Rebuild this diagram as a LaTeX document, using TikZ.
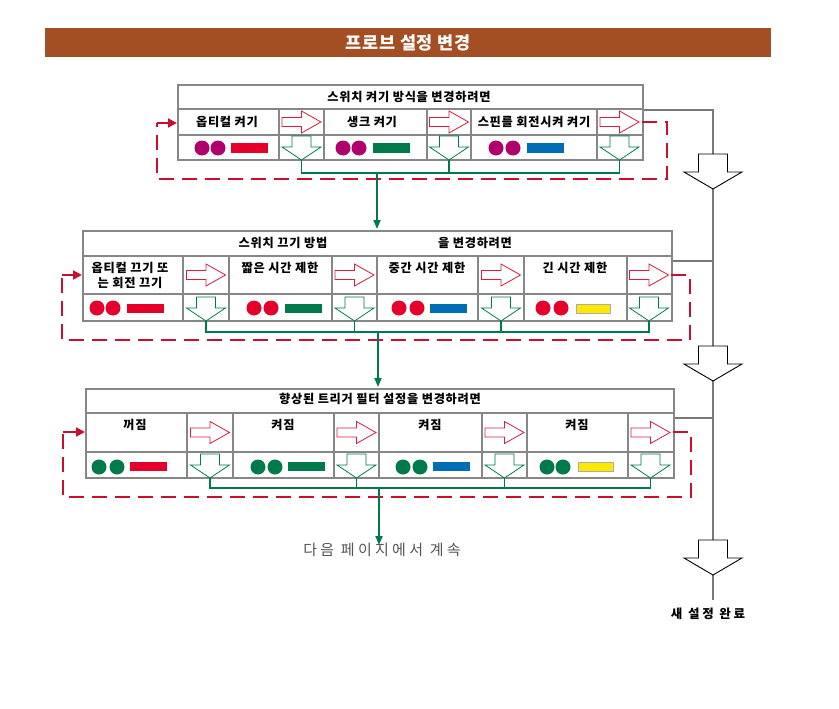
\documentclass[tikz,border=0pt]{standalone}
\usepackage{fontspec}
\setmainfont{Noto Sans CJK KR}
\usetikzlibrary{arrows.meta}
\definecolor{titlebg}{RGB}{163,78,35}
\definecolor{dotmag}{RGB}{176,0,110}
\definecolor{dotred}{RGB}{228,0,43}
\definecolor{dotgreen}{RGB}{0,122,74}
\definecolor{barblue}{RGB}{0,110,180}
\definecolor{baryellow}{RGB}{255,232,0}
\definecolor{loopred}{RGB}{200,16,46}
\definecolor{arrred}{RGB}{215,30,60}
\definecolor{boxgray}{RGB}{135,135,135}
\definecolor{trunkgray}{RGB}{120,120,120}
\definecolor{flowgreen}{RGB}{0,122,74}
\definecolor{nextgray}{RGB}{85,85,85}
\begin{document}
\begin{tikzpicture}[x=1pt,y=-1pt,
  panel/.style={draw=boxgray,line width=1.6pt,anchor=north west,inner sep=0pt},
  grid/.style={draw=boxgray,line width=1.2pt},
  hdr/.style={font=\bfseries\fontsize{12.2}{14}\selectfont\addfontfeatures{LetterSpace=6},inner sep=0pt},
  celltxt/.style={font=\bfseries\fontsize{12.2}{15}\selectfont\addfontfeatures{LetterSpace=6},align=center,inner sep=0pt},
  loop/.style={draw=loopred,line width=1.8pt,dash pattern=on 15pt off 8pt},
  loophead/.style={draw=loopred,line width=1.8pt,-{Triangle[length=9pt,width=9pt]}},
  flow/.style={draw=flowgreen,line width=1.8pt},
  flowarrow/.style={draw=flowgreen,line width=1.8pt,-{Triangle[length=9pt,width=7pt]}},
  trunk/.style={draw=trunkgray,line width=1.5pt},
  rarrow/.pic={\draw[draw=arrred,fill=white,line width=0.8pt]
     (-19.5,-4.5) -- (0,-4.5) -- (0,-11) -- (19.5,0) -- (0,11) -- (0,4.5) -- (-19.5,4.5) -- cycle;},
  garrow/.pic={\draw[draw=flowgreen,fill=white,line width=0.8pt]
     (-9.5,0) -- (9.5,0) -- (9.5,11) -- (19.5,11) -- (0,24) -- (-19.5,11) -- (-9.5,11) -- cycle;},
  bigarrow/.pic={\draw[draw=black,fill=white,line width=0.9pt]
     (-14.5,0) -- (14.5,0) -- (14.5,18) -- (29,18) -- (0,35) -- (-29,18) -- (-14.5,18) -- cycle;},
]
\useasboundingbox (0,0) rectangle (839,709);
\fill[white] (0,0) rectangle (839,709);

% title bar
\node[fill=titlebg,minimum width=726pt,minimum height=29pt,inner sep=0pt,anchor=north west] (title) at (45,28) {};
\node[text=white,font=\bfseries\fontsize{17.5}{19}\selectfont\addfontfeatures{LetterSpace=4},inner sep=0pt] (titletext) at (title.center) {프로브 설정 변경};

% gray trunk and big arrows
\coordinate (tk1) at (713,110);
\coordinate (tk2) at (713,261);
\coordinate (tk3) at (713,418);
\coordinate (tkend) at (713,600);
\draw[trunk] (642,110) -- (tk1) -- (tkend);
\draw[trunk] (671,261) -- (tk2);
\draw[trunk] (673,418) -- (tk3);
\pic at (713,154) {bigarrow};
\pic at (713,346) {bigarrow};
\pic at (713,540) {bigarrow};
\node[font=\bfseries\fontsize{12.5}{14}\selectfont\addfontfeatures{LetterSpace=22},inner sep=0pt] (done) at (708,614) {새 설정 완료};

% ---------------- box 1 ----------------
\node[panel,minimum width=465pt,minimum height=75pt] (b1) at (177,84) {};
\draw[grid] (177,109) -- (642,109);
\draw[grid] (177,135) -- (642,135);
\foreach \xx in {279,324,427,471,597} \draw[grid] (\xx,109) -- (\xx,159);
\node[hdr] (b1h) at (409,97) {스위치 켜기 방식을 변경하려면};
\node[celltxt] (b1c1) at (227,122) {옵티컬 켜기};
\node[celltxt] (b1c2) at (372,122) {생크 켜기};
\node[celltxt] (b1c3) at (534,122) {스핀를 회전시켜 켜기};
\foreach \cx in {301.5,449,619.5} {\pic at (\cx,122) {rarrow}; \pic at (\cx,136) {garrow};}
\foreach \cx in {202,218,343,359,496,513} \fill[dotmag] (\cx,148) circle[radius=7.5pt];
\fill[dotred] (231,143) rectangle (268,153);
\fill[dotgreen] (373,143) rectangle (410,153);
\fill[barblue] (527,143) rectangle (564,153);
% green collector
\draw[flow] (301.5,160) -- (301.5,173) -- (619.5,173) -- (619.5,160);
\draw[flow] (449,160) -- (449,173);
\coordinate (g1) at (377,173);
% red loop
\coordinate (l1a) at (667,122);
\coordinate (l1b) at (667,179);
\coordinate (l1c) at (157,179);
\coordinate (l1d) at (157,123);
\draw[loop] (642,122) -- (l1a) -- (l1b) -- (l1c) -- (l1d);
\draw[loophead] (l1d) -- (b1.west |- l1d);

% ---------------- box 2 ----------------
\node[panel,minimum width=589pt,minimum height=90pt] (b2) at (82,230) {};
\draw[flowarrow] (g1) -- (377,229);
\draw[grid] (82,256) -- (671,256);
\draw[grid] (82,294) -- (671,294);
\foreach \xx in {183,229,332,377,478,524,627} \draw[grid] (\xx,256) -- (\xx,320);
\node[hdr] (b2h1) at (283,243) {스위치 끄기 방법};
\node[hdr] (b2h2) at (475,243) {을 변경하려면};
\node[celltxt] (b2c1) at (130,275) {옵티컬 끄기 또\\는 회전 끄기};
\node[celltxt] (b2c2) at (280,268) {짧은 시간 제한};
\node[celltxt] (b2c3) at (427,268) {중간 시간 제한};
\node[celltxt] (b2c4) at (575,268) {긴 시간 제한};
\foreach \cx in {206,354.5,501,649} {\pic at (\cx,275) {rarrow}; \pic at (\cx,297) {garrow};}
\foreach \cx in {97,113,254,271,399,417,543,561} \fill[dotred] (\cx,308) circle[radius=7.5pt];
\fill[dotred] (127,304) rectangle (164,313);
\fill[dotgreen] (285,304) rectangle (322,313);
\fill[barblue] (430,304) rectangle (467,313);
\filldraw[fill=baryellow,draw=boxgray!70,line width=0.8pt] (576,304) rectangle (610,313);
\draw[flow] (206,321) -- (206,332) -- (649,332) -- (649,321);
\draw[flow] (354.5,321) -- (354.5,332);
\draw[flow] (501,321) -- (501,332);
\coordinate (g2) at (378,332);
\coordinate (l2a) at (690,275);
\coordinate (l2b) at (690,340);
\coordinate (l2c) at (62,340);
\coordinate (l2d) at (62,275);
\draw[loop] (671,275) -- (l2a) -- (l2b) -- (l2c) -- (l2d);
\draw[loophead] (l2d) -- (b2.west |- l2d);

% ---------------- box 3 ----------------
\node[panel,minimum width=588pt,minimum height=89pt] (b3) at (85,388) {};
\draw[flowarrow] (g2) -- (378,387);
\draw[grid] (85,413) -- (673,413);
\draw[grid] (85,452) -- (673,452);
\foreach \xx in {187,233,334,379,482,527,628} \draw[grid] (\xx,413) -- (\xx,477);
\node[hdr] (b3h) at (380,399) {향상된 트리거 필터 설정을 변경하려면};
\node[celltxt] (b3c1) at (135,425) {꺼짐};
\node[celltxt] (b3c2) at (283,425) {켜짐};
\node[celltxt] (b3c3) at (430,425) {켜짐};
\node[celltxt] (b3c4) at (577,425) {켜짐};
\foreach \cx in {210,356.5,504.5,650.5} {\pic at (\cx,432.5) {rarrow}; \pic at (\cx,454) {garrow};}
\foreach \cx in {99,117,258,275,403,420,547,563} \fill[dotgreen] (\cx,467) circle[radius=7.5pt];
\fill[dotred] (130,462) rectangle (167,471);
\fill[dotgreen] (288,462) rectangle (325,471);
\fill[barblue] (433,462) rectangle (470,471);
\filldraw[fill=baryellow,draw=boxgray!70,line width=0.8pt] (578,462) rectangle (613,471);
\draw[flow] (210,478) -- (210,488) -- (650.5,488) -- (650.5,478);
\draw[flow] (356.5,478) -- (356.5,488);
\draw[flow] (504.5,478) -- (504.5,488);
\coordinate (g3) at (379,488);
\coordinate (l3a) at (691,432);
\coordinate (l3b) at (691,497);
\coordinate (l3c) at (63,497);
\coordinate (l3d) at (63,432);
\draw[loop] (673,432) -- (l3a) -- (l3b) -- (l3c) -- (l3d);
\draw[loophead] (l3d) -- (b3.west |- l3d);

% continuation
\node[text=nextgray,font=\fontsize{15}{17}\selectfont\addfontfeatures{LetterSpace=22},inner sep=0pt] (next) at (382,550) {다음 페이지에서 계속};
\draw[flowarrow] (g3) -- ([yshift=-2pt]next.north -| g3);
\end{tikzpicture}
\end{document}
